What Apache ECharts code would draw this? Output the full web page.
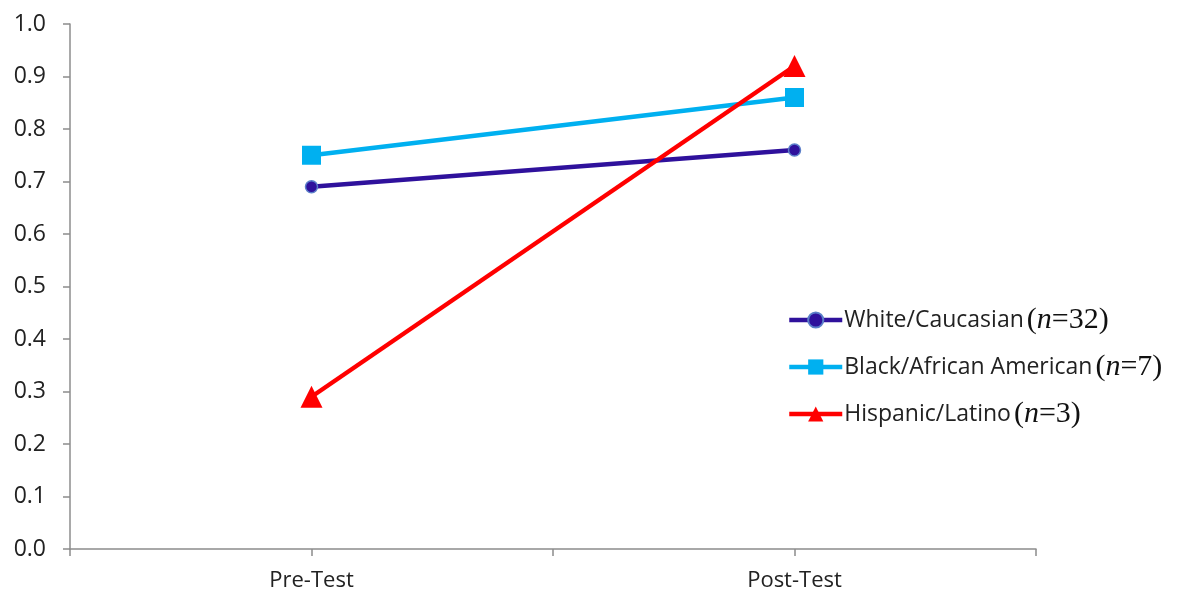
<!DOCTYPE html>
<html>
<head>
<meta charset="utf-8">
<script src="https://cdn.jsdelivr.net/npm/echarts@6/dist/echarts.min.js"></script>
<style>html,body{margin:0;padding:0;background:#fff;}#c{width:1177px;height:597px;}</style>
</head>
<body>
<div id="c"></div>
<script>
const categories = ['Pre-Test', 'Post-Test'];
const seriesNames = ['White/Caucasian', 'Black/African American', 'Hispanic/Latino'];
const sampleSizes = [32, 7, 3];
const white = [0.69, 0.76];
const black = [0.75, 0.86];
const hispanic = [0.29, 0.92];

const chart = echarts.init(document.getElementById('c'));
const axisColor = '#8c8c8c';
const sans = '"Open Sans", "Liberation Sans", sans-serif';
const serif = '"Liberation Serif", "DejaVu Serif", serif';

function legendLabel(name) {
  const i = seriesNames.indexOf(name);
  return '{a|' + name + '}{b|(}{i|n}{b|=' + sampleSizes[i] + ')}';
}

chart.setOption({
  animation: false,
  backgroundColor: '#fff',
  grid: { left: 70, right: 141, top: 24, bottom: 48 },
  xAxis: [{
    type: 'category',
    data: categories,
    boundaryGap: true,
    axisLine: { lineStyle: { color: axisColor, width: 1.5 } },
    axisTick: { show: true, length: 7, lineStyle: { color: axisColor, width: 1.5 } },
    axisLabel: { color: '#222', fontFamily: sans, fontSize: 22, margin: 21 }
  }, {
    type: 'category',
    data: ['', '', '', ''],
    boundaryGap: true,
    position: 'bottom',
    axisLine: { show: false },
    axisTick: { show: true, length: 7, lineStyle: { color: axisColor, width: 1.5 } },
    axisLabel: { show: false }
  }],
  yAxis: {
    type: 'value',
    min: 0, max: 1, interval: 0.1,
    axisLine: { show: true, lineStyle: { color: axisColor, width: 1.5 } },
    axisTick: { show: true, length: 7, lineStyle: { color: axisColor, width: 1.5 } },
    splitLine: { show: false },
    axisLabel: { color: '#222', fontFamily: sans, fontSize: 23, margin: 24,
      formatter: v => v.toFixed(1) }
  },
  legend: {
    orient: 'vertical',
    left: 787,
    top: 305,
    itemWidth: 53,
    itemHeight: 19,
    itemGap: 17,
    padding: 0,
    data: seriesNames,
    formatter: legendLabel,
    lineStyle: { width: 4.5 },
    textStyle: {
      padding: [0, 0, 0, -3],
      rich: {
        a: { fontFamily: sans, fontSize: 23, color: '#222', lineHeight: 30, padding: [0, 3, 0, 0] },
        b: { fontFamily: serif, fontSize: 30, color: '#111', lineHeight: 30 },
        i: { fontFamily: serif, fontSize: 30, fontStyle: 'italic', color: '#111', lineHeight: 30 }
      }
    }
  },
  series: [{
    name: seriesNames[0], type: 'line', data: white,
    symbol: 'circle', symbolSize: 12,
    lineStyle: { color: '#2f119c', width: 4.5 },
    itemStyle: { color: '#2f119c', borderColor: '#5b7fc9', borderWidth: 1.5 }
  }, {
    name: seriesNames[1], type: 'line', data: black,
    symbol: 'rect', symbolSize: 19,
    lineStyle: { color: '#00b0f0', width: 4.5 },
    itemStyle: { color: '#00b0f0' }
  }, {
    name: seriesNames[2], type: 'line', data: hispanic,
    symbol: 'triangle', symbolSize: 22,
    lineStyle: { color: '#ff0000', width: 4.5 },
    itemStyle: { color: '#ff0000' }
  }]
});
</script>
</body>
</html>
